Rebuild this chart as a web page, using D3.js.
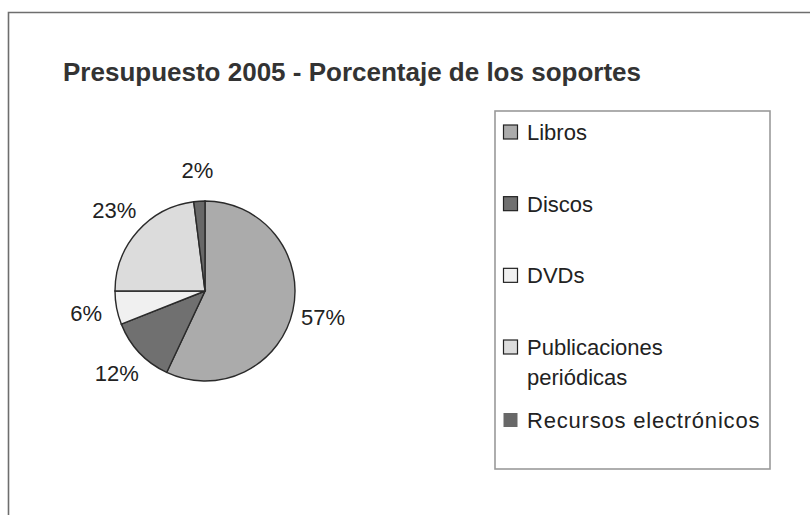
<!DOCTYPE html>
<meta charset="utf-8">
<style>
    body { margin: 0; background: #fff; }
    svg { font-family: "Liberation Sans", Arial, sans-serif; }
    .slice { stroke: #2a2a2a; stroke-width: 1.4px; }
    .lbl { font-size: 22px; fill: #222; }
    .leg text { font-size: 22px; fill: #222; }
</style>
<body>
<script src="https://d3js.org/d3.v7.min.js"></script>
<script>
    var width = 810, height = 515;

    var title = "Presupuesto 2005 - Porcentaje de los soportes";
    var categories = ["Libros", "Discos", "DVDs", "Publicaciones periódicas", "Recursos electrónicos"];
    var legendLines = [["Libros"], ["Discos"], ["DVDs"], ["Publicaciones", "periódicas"], ["Recursos electrónicos"]];
    var shares = [57, 12, 6, 23, 2];
    var colors = ["#ababab", "#707070", "#f0f0f0", "#dcdcdc", "#686868"];

    var svg = d3.select("body").append("svg")
        .attr("width", width)
        .attr("height", height);

    // chart frame (only top and left edges are visible in the scan)
    svg.append("path")
        .attr("d", "M8.5,515 V12.5 H810")
        .attr("fill", "none")
        .attr("stroke", "#6e6e6e")
        .attr("stroke-width", 1.6);

    svg.append("text")
        .attr("x", 63)
        .attr("y", 81)
        .attr("font-size", 26)
        .attr("font-weight", "bold")
        .attr("fill", "#333")
        .text(title);

    // pie
    var cx = 205, cy = 291, r = 90;
    var pie = d3.pie().sort(null).value(function (d) { return d; });
    var arc = d3.arc().innerRadius(0).outerRadius(r);
    var labelArc = d3.arc().innerRadius(121).outerRadius(121);
    var arcs = pie(shares);

    var g = svg.append("g").attr("transform", "translate(" + cx + "," + cy + ")");
    g.selectAll(".slice")
        .data(arcs)
        .enter().append("path")
        .attr("class", "slice")
        .attr("fill", function (d, i) { return colors[i]; })
        .attr("d", arc);

    g.selectAll(".lbl")
        .data(arcs)
        .enter().append("text")
        .attr("class", "lbl")
        .attr("text-anchor", "middle")
        .attr("dominant-baseline", "central")
        .attr("transform", function (d) { return "translate(" + labelArc.centroid(d) + ")"; })
        .text(function (d) { return d.data + "%"; });

    // legend
    var legX = 495, legY = 111, legW = 275, legH = 358;
    svg.append("rect")
        .attr("x", legX).attr("y", legY)
        .attr("width", legW).attr("height", legH)
        .attr("fill", "#fff")
        .attr("stroke", "#9a9a9a")
        .attr("stroke-width", 1.6);

    var rowY = d3.scalePoint().domain(d3.range(4)).range([132, 347]);
    var itemY = [rowY(0), rowY(1), rowY(2), rowY(3), 420];

    var leg = svg.append("g").attr("class", "leg");
    var items = leg.selectAll("g")
        .data(categories)
        .enter().append("g")
        .attr("transform", function (d, i) { return "translate(" + (legX + 8) + "," + itemY[i] + ")"; });

    items.append("rect")
        .attr("x", 0.5).attr("y", -7)
        .attr("width", 14).attr("height", 14)
        .attr("fill", function (d, i) { return colors[i]; })
        .attr("stroke", function (d, i) { return i === 4 ? "none" : "#222"; })
        .attr("stroke-width", 1.2);

    items.append("text")
        .attr("x", 24)
        .attr("y", 0)
        .attr("dominant-baseline", "central")
        .attr("letter-spacing", function (d, i) { return i === 4 ? 0.8 : 0; })
        .selectAll("tspan")
        .data(function (d, i) { return legendLines[i]; })
        .enter().append("tspan")
        .attr("x", 24)
        .attr("dy", function (d, j) { return j === 0 ? 0 : 30; })
        .text(function (d) { return d; });
</script>
</body>
